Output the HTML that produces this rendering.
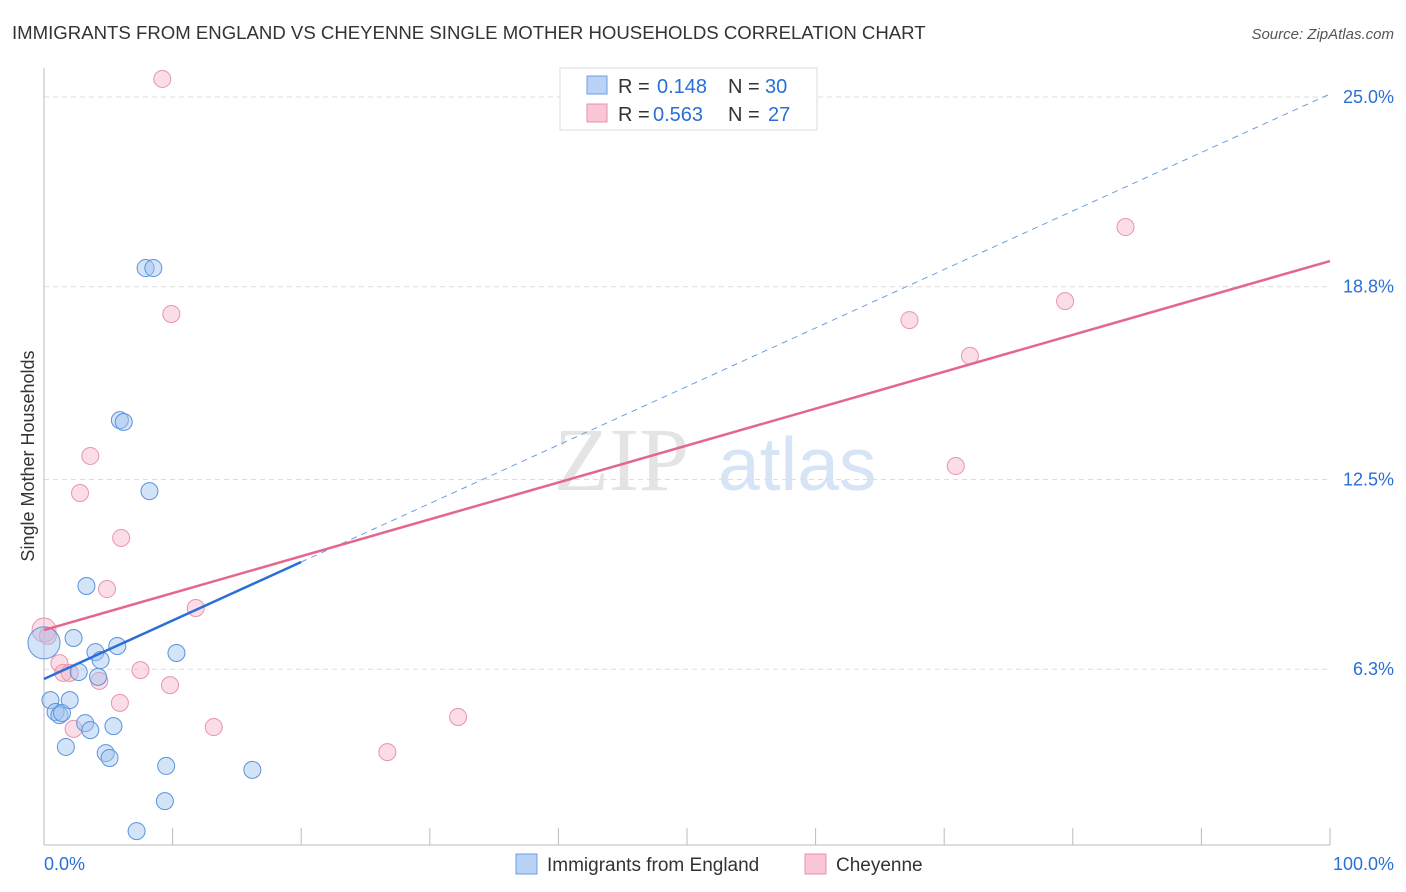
<!DOCTYPE html>
<html><head><meta charset="utf-8"><style>
body{margin:0;background:#fff;font-family:"Liberation Sans",sans-serif;}
</style></head><body>
<svg id="c" width="1406" height="892" style="display:block">
<text x="12" y="39" font-size="18.6" fill="#333">IMMIGRANTS FROM ENGLAND VS CHEYENNE SINGLE MOTHER HOUSEHOLDS CORRELATION CHART</text>
<text x="1394" y="39" font-size="15" fill="#555" font-style="italic" text-anchor="end">Source: ZipAtlas.com</text>
<text transform="translate(34,456) rotate(-90)" font-size="18" fill="#333" text-anchor="middle">Single Mother Households</text>
<text x="554" y="490" font-size="90" fill="#e4e4e4" font-family="Liberation Serif">ZIP</text>
<text x="718" y="490" font-size="75" fill="#d6e4f5">atlas</text>
<g id="grid"></g><g id="marks"></g>
<g>
<rect x="560" y="68" width="257" height="62" fill="#fff" stroke="#ddd"/>
<rect x="587" y="76" width="20" height="18" fill="#b8d3f5" stroke="#6a9fe0"/>
<rect x="587" y="104" width="20" height="18" fill="#f9c6d5" stroke="#e890aa"/>
<text x="618" y="93" font-size="20" fill="#333">R =</text>
<text x="657" y="93" font-size="20" fill="#2a6fd6">0.148</text>
<text x="728" y="93" font-size="20" fill="#333">N =</text>
<text x="765" y="93" font-size="20" fill="#2a6fd6">30</text>
<text x="618" y="121" font-size="20" fill="#333">R =</text>
<text x="653" y="121" font-size="20" fill="#2a6fd6">0.563</text>
<text x="728" y="121" font-size="20" fill="#333">N =</text>
<text x="768" y="121" font-size="20" fill="#2a6fd6">27</text>
</g>
<g>
<rect x="516" y="854" width="21" height="20" fill="#b8d3f5" stroke="#6a9fe0"/>
<text x="547" y="871" font-size="19" fill="#333">Immigrants from England</text>
<rect x="805" y="854" width="21" height="20" fill="#f9c6d5" stroke="#e890aa"/>
<text x="836" y="871" font-size="19" fill="#333">Cheyenne</text>
</g>
<text x="44" y="870" font-size="18" fill="#2a6fd6">0.0%</text>
<text x="1394" y="870" font-size="18" fill="#2a6fd6" text-anchor="end">100.0%</text>
</svg>
<script>
const yTicks=[6.3,12.5,18.8,25.0];
const yTickLabels=["6.3%","12.5%","18.8%","25.0%"];
const blueX=[0,0.5,0.9,1.2,1.4,1.7,2.0,2.3,2.7,3.2,3.3,3.6,4.0,4.2,4.4,4.8,5.1,5.4,5.7,5.9,6.2,7.9,8.2,8.5,9.4,9.5,10.3,16.2,7.2];
const blueY=[7.16,5.29,4.90,4.80,4.87,3.76,5.29,7.32,6.21,4.54,9.02,4.31,6.86,6.05,6.60,3.56,3.40,4.44,7.06,14.44,14.38,19.41,12.12,19.41,1.99,3.14,6.83,3.01,1.01];
const pinkX=[0,0.3,1.2,1.5,2.0,2.3,2.8,3.6,4.3,4.9,5.9,6.0,7.5,9.2,9.8,9.9,11.8,13.2,26.7,32.2,67.3,70.9,72.0,79.4,84.1];
const pinkY=[7.58,7.39,6.50,6.18,6.18,4.35,12.06,13.27,5.92,8.92,5.20,10.59,6.27,25.59,5.78,17.91,8.30,4.41,3.59,4.74,17.71,12.94,16.54,18.33,20.75];
const blueTrend=[5.98,25.1], blueSolidEnd=20;
const pinkTrend=[7.58,19.64];
const X=v=>44+v*12.86, Y=v=>862-v*30.6;
const NS="http://www.w3.org/2000/svg";
function mk(p,t,a){const e=document.createElementNS(NS,t);for(const k in a)e.setAttribute(k,a[k]);p.appendChild(e);return e;}
const g=document.getElementById('grid'), m=document.getElementById('marks');
yTicks.forEach((v,i)=>{
 const l=mk(g,'line',{x1:44,x2:1330,y1:Y(v),y2:Y(v),stroke:'#ddd','stroke-dasharray':'5,4'});
 
 
 const t=mk(g,'text',{x:1394,y:Y(v)+6,'font-size':18,fill:'#2a6fd6','text-anchor':'end'});t.textContent=yTickLabels[i];
 
 
});
mk(g,'line',{x1:44,x2:44,y1:68,y2:845,stroke:'#bbb'});
mk(g,'line',{x1:44,x2:1330,y1:845,y2:845,stroke:'#bbb'});
for(let i=0;i<=10;i++){const t=mk(g,'line',{x1:X(i*10),x2:X(i*10),y1:828,y2:845,stroke:'#bbb'});
 
 }
pinkX.forEach((x,i)=>{const c=mk(m,'circle',{cx:X(x),cy:Y(pinkY[i]),r:i==0?12:8.5,fill:'rgba(246,170,195,0.4)',stroke:'#e994ae','stroke-width':1});
 
 });
blueX.forEach((x,i)=>{const c=mk(m,'circle',{cx:X(x),cy:Y(blueY[i]),r:i==0?16:8.5,fill:'rgba(160,195,240,0.45)',stroke:'#5b93dc','stroke-width':1});
 
 });
const bs=blueTrend[0],be=blueTrend[1];const bm=v=>bs+(be-bs)*v/100;
const d=mk(m,'line',{x1:X(blueSolidEnd),y1:Y(bm(blueSolidEnd)),x2:X(100),y2:Y(be),stroke:'#6a9fe0','stroke-dasharray':'6,5','stroke-width':1});


const bl=mk(m,'line',{x1:X(0),y1:Y(bs),x2:X(blueSolidEnd),y2:Y(bm(blueSolidEnd)),stroke:'#2a6fd6','stroke-width':2.5});


const pl=mk(m,'line',{x1:X(0),y1:Y(pinkTrend[0]),x2:X(100),y2:Y(pinkTrend[1]),stroke:'#e4668f','stroke-width':2.5});


</script>
</body></html>
